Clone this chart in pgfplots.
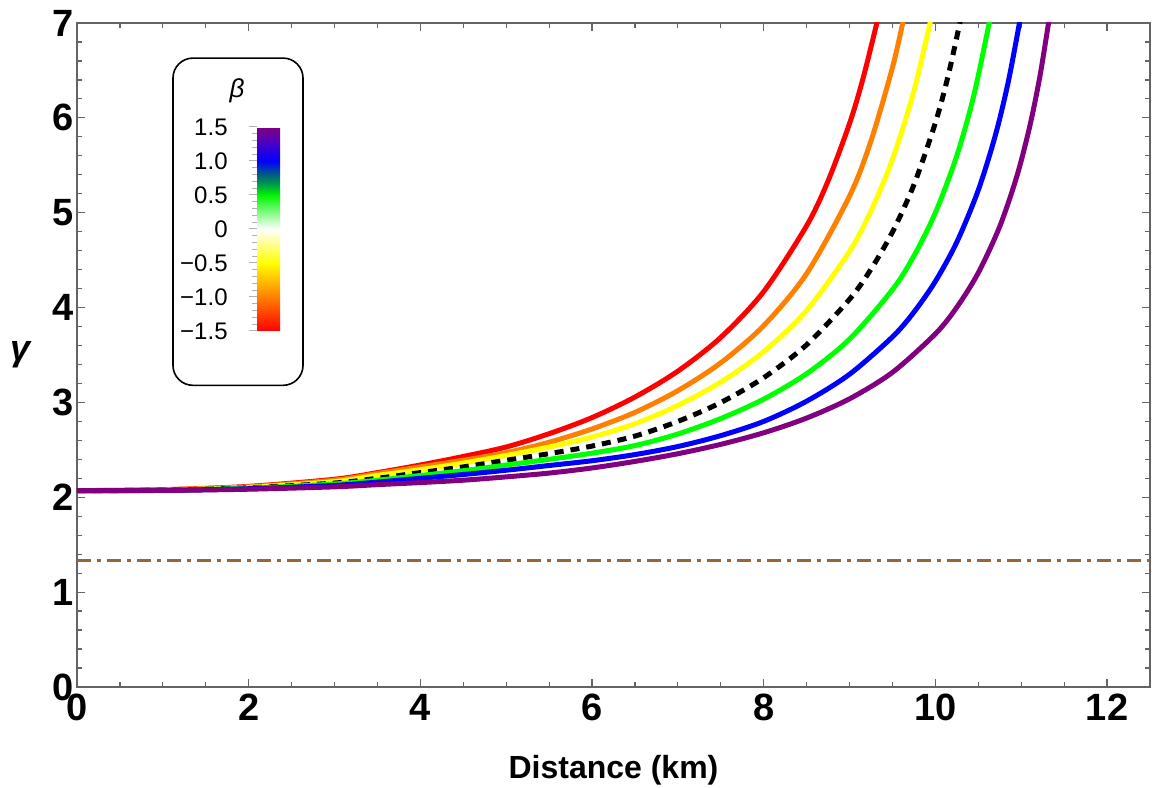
\documentclass[border=0pt]{standalone}
\usepackage{pgfplots}
\pgfplotsset{compat=1.18}
\usepackage{fontspec}
\setmainfont{Liberation Sans}
\definecolor{cRed}{RGB}{255,0,0}
\definecolor{cOrange}{RGB}{255,128,0}
\definecolor{cYellow}{RGB}{255,255,0}
\definecolor{cGreen}{RGB}{0,255,0}
\definecolor{cBlue}{RGB}{0,0,255}
\definecolor{cPurple}{RGB}{128,0,128}
\definecolor{cBrown}{RGB}{153,102,51}
\definecolor{frameGray}{RGB}{100,100,100}
\begin{document}
\begin{tikzpicture}
\begin{axis}[
  name=ax,
  width=536.5pt, height=332pt, scale only axis,
  xmin=0, xmax=12.5, ymin=0, ymax=7,
  xtick={0,2,4,6,8,10,12}, ytick={0,1,2,3,4,5,6,7},
  minor x tick num=3, minor y tick num=4,
  axis line style={frameGray, line width=0.6pt},
  tick style={frameGray, line width=0.6pt},
  major tick length=4pt, minor tick length=2.5pt,
  /pgf/number format/assume math mode=true,
  ticklabel style={font=\fontsize{19}{22}\selectfont\bfseries},
  yticklabel style={xshift=2pt},
  every axis x label/.style={at={(rel axis cs:0.5,0)}, anchor=center, yshift=-41.5pt},
  every axis y label/.style={at={(rel axis cs:0,0.5)}, anchor=center, xshift=-28pt},
  xlabel={\fontsize{16}{19}\selectfont\bfseries Distance (km)},
  ylabel={\fontsize{18}{21}\selectfont\bfseries\itshape γ},
  point meta min=-1.5, point meta max=1.5,
  colormap={betamap}{rgb255(0pt)=(255,0,0) rgb255(2pt)=(255,128,0) rgb255(4pt)=(255,255,0) rgb255(6pt)=(255,255,255) rgb255(8pt)=(0,245,0) rgb255(8.6pt)=(0,160,70) rgb255(9.2pt)=(0,95,130) rgb255(10pt)=(0,0,255) rgb255(11pt)=(70,0,200) rgb255(12pt)=(128,0,128)},
  colorbar,
  colorbar style={
    at={(parent axis.north west)}, anchor=north west,
    xshift=81.5pt, yshift=-52pt,
    width=11.5pt, height=102pt, scale only axis,
    ytick={-1.5,-1,-0.5,0,0.5,1,1.5},
    yticklabels={−1.5,−1.0,−0.5,0,0.5,1.0,1.5},
    minor y tick num=4,
    yticklabel pos=left, ytick pos=left,
    tick align=outside,
    major tick length=4.2pt, minor tick length=2.5pt,
    tick style={black!30, line width=0.5pt},
    axis line style={draw=none},
    yticklabel style={font=\fontsize{12}{14}\selectfont, text=black, xshift=-7pt},
  },
]
\addplot[cBrown, line width=1.9pt, dash pattern=on 7pt off 3pt on 2pt off 3pt] coordinates {(0,1.3333) (12.5,1.3333)};

\addplot[cRed, line width=2.5pt, smooth] coordinates {
(0,2.07) (1,2.08) (2,2.115) (3,2.19) (3.5,2.26) (4,2.34) (4.5,2.43) (5,2.53) (5.5,2.67) (6,2.84) (6.5,3.057) (7,3.33) (7.5,3.686) (8,4.169) (8.5,4.863) (8.75,5.336) (9.0,5.941) (9.15,6.392) (9.3,6.933) (9.33,7.055)};

\addplot[cOrange, line width=2.5pt, smooth] coordinates {
(0,2.07) (1,2.078) (2,2.11) (3,2.18) (3.5,2.25) (4,2.32) (4.5,2.39) (5,2.47) (5.5,2.58) (6,2.72) (6.5,2.895) (7,3.124) (7.5,3.418) (8,3.810) (8.5,4.358) (9,5.176) (9.25,5.758) (9.5,6.532) (9.63,7.045)};

\addplot[cYellow, line width=2.5pt, smooth] coordinates {
(0,2.07) (1,2.076) (2,2.105) (3,2.165) (3.5,2.23) (4,2.29) (4.5,2.36) (5,2.44) (5.5,2.53) (6,2.635) (6.5,2.775) (7,2.969) (7.5,3.215) (8,3.535) (8.5,3.970) (9,4.593) (9.25,5.019) (9.5,5.563) (9.75,6.283) (9.95,7.05)};

\addplot[black, line width=2.5pt, smooth, dash pattern=on 4.5pt off 3.5pt] coordinates {
(0,2.07) (1,2.075) (2,2.10) (3,2.15) (3.5,2.20) (4,2.26) (4.5,2.32) (5,2.39) (5.5,2.46) (6,2.54) (6.5,2.645) (7,2.80) (7.5,2.999) (8,3.261) (8.5,3.608) (9,4.088) (9.25,4.405) (9.5,4.797) (9.75,5.295) (10,5.949) (10.15,6.449) (10.3,7.065)};

\addplot[cGreen, line width=2.5pt, smooth] coordinates {
(0,2.07) (1,2.074) (2,2.095) (3,2.14) (3.5,2.18) (4,2.23) (4.5,2.28) (5,2.34) (5.5,2.40) (6,2.465) (6.5,2.545) (7,2.667) (7.5,2.83) (8,3.035) (8.5,3.303) (9,3.667) (9.5,4.189) (9.75,4.545) (10,5.0) (10.25,5.602) (10.45,6.245) (10.64,7.06)};

\addplot[cBlue, line width=2.5pt, smooth] coordinates {
(0,2.07) (1,2.073) (2,2.09) (3,2.125) (3.5,2.16) (4,2.20) (4.5,2.24) (5,2.285) (5.5,2.335) (6,2.385) (6.5,2.45) (7,2.535) (7.5,2.65) (8,2.80) (8.5,3.013) (9,3.297) (9.5,3.691) (9.75,3.952) (10,4.277) (10.25,4.691) (10.5,5.239) (10.7,5.821) (10.85,6.384) (10.99,7.053)};

\addplot[cPurple, line width=2.5pt, smooth] coordinates {
(0,2.07) (1,2.072) (2,2.085) (3,2.11) (3.5,2.133) (4,2.155) (4.5,2.18) (5,2.215) (5.5,2.255) (6,2.309) (6.5,2.378) (7,2.459) (7.5,2.558) (8,2.680) (8.5,2.835) (9,3.038) (9.5,3.317) (10,3.723) (10.25,4.004) (10.5,4.367) (10.75,4.856) (10.95,5.388) (11.1,5.914) (11.22,6.45) (11.33,7.072)};

\draw[rounded corners=10pt, line width=0.8pt] (axis cs:1.118,6.63) rectangle (axis cs:2.633,3.18);
\node[font=\fontsize{13}{15}\selectfont\itshape] at (axis cs:1.864,6.29) {β};
\end{axis}
\pgfresetboundingbox
\useasboundingbox ([xshift=-38.5pt,yshift=-50.5pt]ax.south west) rectangle ([xshift=1pt,yshift=11.5pt]ax.north east);
\end{tikzpicture}
\end{document}
